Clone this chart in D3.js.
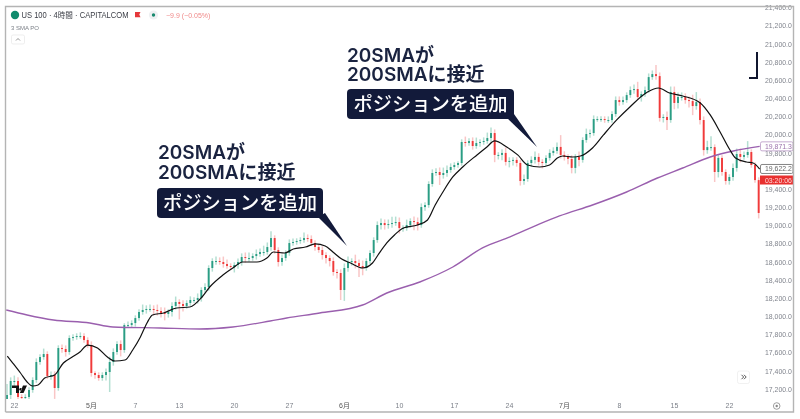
<!DOCTYPE html>
<html><head><meta charset="utf-8">
<style>html,body{margin:0;padding:0;background:#fff}svg{display:block;filter:blur(0.35px)}</style>
<script src="https://cdn.jsdelivr.net/npm/d3@7"></script></head><body>
<svg id="c" width="800" height="419"></svg>
<script>
const yTicks=[21400,21200,21000,20800,20600,20400,20200,20000,19800,19400,19200,19000,18800,18600,18400,18200,18000,17800,17600,17400,17200];
const xTickDays=[0,7,11,15,20,25,30,35,40,45,50,55,60,65];
const xTickLabels=["22","5月","7","13","20","27","6月","10","17","24","7月","8","15","22"];
const firstOpen=17060;
const closes=[
17134,17288,17288,17112,17101,17112,17189,17299,17497,17552,
17585,17343,17354,17211,17651,17640,17607,17761,17772,17783,
17783,17739,17684,17376,17354,17321,17354,17387,17497,17607,
17695,17629,17904,17904,17926,17981,18048,18070,18081,18081,
18070,18059,18037,18026,18048,18114,18158,18136,18114,18147,
18180,18180,18202,18290,18323,18532,18609,18609,18598,18576,
18554,18543,18565,18598,18653,18642,18642,18664,18686,18708,
18708,18763,18862,18730,18598,18642,18697,18807,18818,18829,
18840,18862,18851,18807,18763,18730,18675,18642,18609,18488,
18477,18290,18532,18598,18609,18587,18554,18532,18609,18697,
18840,19005,19027,19005,19016,19027,19038,18972,18972,19005,
19049,19038,19005,19203,19225,19457,19578,19589,19556,19578,
19611,19644,19666,19688,19919,19908,19930,19875,19908,19919,
19930,19963,20018,19777,19777,19799,19700,19711,19722,19688,
19490,19512,19688,19722,19755,19700,19688,19744,19799,19821,
19865,19777,19755,19733,19634,19755,19722,19941,20007,20018,
20172,20172,20172,20161,20161,20227,20381,20359,20381,20436,
20491,20502,20414,20447,20491,20634,20667,20645,20184,20195,
20161,20470,20349,20415,20415,20381,20370,20315,20359,20161,
19830,19863,19863,19589,19744,19589,19490,19534,19633,19787,
19755,19776,19809,19666,19500,19138];
const wickUp=[
120,40,60,40,30,30,30,30,40,30,
60,30,40,40,30,40,40,30,30,30,
40,30,30,40,20,30,30,40,60,40,
30,40,20,40,30,30,30,60,40,50,
40,60,40,60,30,40,60,30,40,30,
40,30,50,30,40,30,30,50,40,60,
50,30,30,40,40,50,60,30,50,40,
70,50,75,30,30,40,30,40,40,30,
30,60,40,40,30,30,40,30,30,40,
30,40,50,60,30,70,40,60,30,30,
30,40,50,40,50,70,60,50,30,60,
30,50,50,40,30,30,40,40,50,60,
50,40,30,20,30,60,30,40,60,30,
40,60,60,40,30,40,60,40,30,30,
30,50,30,40,60,40,30,30,40,40,
50,130,40,30,40,30,60,30,60,40,
40,30,30,30,40,30,40,40,40,30,
40,50,80,30,40,40,40,100,40,30,
60,60,60,50,50,40,40,70,110,40,
40,70,120,30,40,30,30,30,50,60,
60,40,120,30,30,30];
const wickDown=[
80,60,60,30,40,40,30,30,30,30,
30,30,40,120,30,40,50,30,30,30,
30,30,30,40,40,30,30,60,220,40,
30,70,30,30,30,40,30,30,40,30,
60,50,50,70,40,50,40,170,60,30,
30,30,40,40,30,40,40,40,30,40,
30,30,60,40,40,50,40,30,40,30,
40,30,40,40,50,40,30,30,30,30,
30,30,30,30,40,30,50,60,60,40,
60,110,120,40,40,60,120,80,30,30,
40,30,50,50,40,40,30,60,40,30,
30,90,60,30,40,30,30,30,110,40,
40,30,30,30,30,40,30,40,30,40,
30,30,40,80,50,60,40,60,50,40,
50,40,30,40,40,40,60,30,30,30,
30,40,40,60,60,60,70,30,30,40,
30,30,30,30,30,30,30,40,30,30,
30,40,30,50,30,30,30,40,40,50,
110,30,70,60,40,40,70,100,40,50,
60,40,40,110,60,40,40,40,40,40,
60,30,30,30,30,60];
const sma20Days=[-0.7,-0.2,0.5,1.1,1.6,2.1,2.7,3.6,4.4,5.2,5.9,6.6,7.5,8.4,9.1,10,10.7,11.4,12,12.5,13.5,14.7,15.9,17,17.7,18.9,19.8,20.7,22,22.9,23.5,24.5,25.3,26.4,27.3,28.2,28.9,29.7,30.5,31.6,32.5,33,33.8,34.5,35.3,36.6,37.5,38.2,38.9,39.8,40.7,42,42.9,43.6,44.7,45.7,46.6,47.7,48.6,49.3,49.8,50.7,51.4,52.5,53.5,54.7,55.9,57.5,58.5,59.5,60.7,62.3,63.2,64.1,65,65.5,66.5,67.1,67.7];
const sma20Vals=[17563,17486,17376,17277,17233,17244,17321,17354,17486,17552,17607,17684,17651,17552,17508,17519,17629,17773,17927,18015,18037,18092,18103,18213,18323,18455,18532,18598,18598,18642,18708,18697,18741,18763,18797,18775,18708,18631,18587,18532,18587,18675,18808,18896,18973,19006,19061,19226,19369,19534,19644,19777,19865,19931,19865,19777,19666,19644,19666,19743,19765,19754,19765,19853,19997,20162,20305,20470,20514,20459,20426,20349,20217,20030,19831,19743,19699,19688,19622];
const sma200Days=[-0.8,1.1,3.5,6.8,8.9,13.2,16.8,19.8,23.2,24.7,27.7,31.6,33.8,36.8,39.8,42.5,45,47.7,49.5,52.5,55.6,58.4,60.7,63.2,65.3,67.7];
const sma200Vals=[18070,18015,17960,17927,17883,17872,17861,17883,17949,17982,18037,18125,18257,18378,18543,18753,18874,19017,19105,19226,19369,19523,19633,19754,19820,19871];
const startDay=-0.727, barsPerDay=3;
const svg=d3.select("#c");
const sans="'Liberation Sans',sans-serif";
const x=d3.scaleLinear().domain([0,65]).range([15,730]);
const y=d3.scaleLinear().domain([17200,20800]).range([389,62]);
const GREEN="#2a9d84",RED="#f03a3a",GP="#b4dfd2",RP="#f9c6c6";
const bars=closes.map((c,i)=>{const o=i?closes[i-1]:firstOpen;const hi=Math.max(o,c)+wickUp[i],lo=Math.min(o,c)-wickDown[i];return{d:startDay+i/barsPerDay,o,c,hi,lo}});
svg.append("clipPath").attr("id","plot").append("rect").attr("x",6).attr("y",7).attr("width",754).attr("height",392);
const plot=svg.append("g").attr("clip-path","url(#plot)");
plot.selectAll("line.w").data(bars).join("line").attr("class","w")
 .attr("x1",b=>x(b.d)).attr("x2",b=>x(b.d)).attr("y1",b=>y(b.hi)).attr("y2",b=>y(b.lo))
 .attr("stroke",b=>b.c>=b.o?GP:RP).attr("stroke-width",1.5);
plot.selectAll("rect.b").data(bars).join("rect").attr("class","b")
 .attr("x",b=>x(b.d)-0.95).attr("width",1.9)
 .attr("y",b=>y(Math.max(b.o,b.c))).attr("height",b=>Math.max(1,Math.abs(y(b.o)-y(b.c))))
 .attr("fill",b=>b.c>=b.o?GREEN:RED);
const line=d3.line().x(p=>x(p[0])).y(p=>y(p[1])).curve(d3.curveMonotoneX);
plot.append("path").attr("d",line(d3.zip(sma200Days,sma200Vals))).attr("fill","none").attr("stroke","#9a5fae").attr("stroke-width",1.4);
plot.append("path").attr("d",line(d3.zip(sma20Days,sma20Vals))).attr("fill","none").attr("stroke","#111").attr("stroke-width",1.2);

// axes
const yAxis=d3.axisRight(y).tickValues(yTicks).tickSize(0).tickFormat(d3.format(",.1f"));
const ya=svg.append("g").attr("transform","translate(765,0)").call(yAxis);
ya.select(".domain").remove();
ya.selectAll("text").attr("x",0).attr("font-family",sans).attr("font-size",6.9).attr("fill","#80848d");
const xAxis=d3.axisBottom(x).tickValues(xTickDays).tickSize(0).tickFormat((d,i)=>xTickLabels[i]);
const xa=svg.append("g").attr("transform","translate(-1,402)").call(xAxis);
xa.select(".domain").remove();
xa.selectAll("text").attr("y",0).attr("dy","0.8em").attr("font-family",sans+",'Noto Sans CJK JP'").attr("font-size",7)
 .attr("fill",(d,i)=>/月/.test(xTickLabels[i])?"#555":"#7c8089");

// price tags
function tag(yc,stroke,color,txt){
 svg.append("rect").attr("x",760.5).attr("y",yc-4.5).attr("width",32.5).attr("height",9).attr("rx",1.5).attr("fill","#fff").attr("stroke",stroke).attr("stroke-width",0.8);
 svg.append("text").attr("x",765).attr("y",yc+2.5).attr("font-family",sans).attr("font-size",6.9).attr("fill",color).text(txt);
}
tag(y(19871.3),"#b896c4","#9b72ab","19,871.3");
tag(y(19622.2),"#666","#666","19,622.2");
svg.append("rect").attr("x",760).attr("y",175.5).attr("width",33).attr("height",9).attr("fill","#e8302f");
svg.append("text").attr("x",765).attr("y",182.6).attr("font-family",sans).attr("font-size",6.9).attr("fill","#ffd9d9").text("03:20:06");

// frame
svg.append("path").attr("d","M5.5,412 V6.5 H793.5 V412 H5.5").attr("fill","none").attr("stroke","#b4b4b4").attr("stroke-width",1.4);

// header
svg.append("circle").attr("cx",15).attr("cy",15).attr("r",4.2).attr("fill","#0f8a6c");
svg.append("text").attr("x",21.5).attr("y",18.2).attr("font-family","'Liberation Sans','Noto Sans CJK JP',sans-serif").attr("font-size",8.2).attr("textLength",107).attr("lengthAdjust","spacingAndGlyphs").attr("fill","#3a3d45").text("US 100 · 4時間 · CAPITALCOM");
svg.append("path").attr("d","M135,12 h5.5 l-1.2,2.6 l1.2,2.6 h-5.5 z").attr("fill","#e5383b");
svg.append("circle").attr("cx",153.5).attr("cy",15).attr("r",4.6).attr("fill","#eef0f2");
svg.append("circle").attr("cx",153.5).attr("cy",15).attr("r",1.7).attr("fill","#18896e");
svg.append("text").attr("x",166).attr("y",17.8).attr("font-family",sans).attr("font-size",7).attr("fill","#f08a8a").text("−9.9 (−0.05%)");
svg.append("text").attr("x",11).attr("y",29.5).attr("font-family",sans).attr("font-size",6).attr("fill","#7c8088").text("3 SMA PO");
svg.append("rect").attr("x",11.5).attr("y",35).attr("width",13).attr("height",9).attr("rx",1.5).attr("fill","#fff").attr("stroke","#e6e6e6").attr("stroke-width",0.7);
svg.append("path").attr("d","M16,40.5 l2,-2 l2,2").attr("fill","none").attr("stroke","#666").attr("stroke-width",0.7);

// logo
svg.append("path").attr("d","M12,385.5 h7 v7.5 h-3 v-5 h-4 z M20.5,388 a1.3,1.3 0 1 0 0.01,0 M23,385.5 h4 l-3.5,7.5 h-3.6 z").attr("fill","#111");

// corner mark
svg.append("path").attr("d","M757,52 V78 H749").attr("fill","none").attr("stroke","#10162f").attr("stroke-width",2);

// scroll button and gear
svg.append("rect").attr("x",737.5).attr("y",371).attr("width",12).attr("height",12.5).attr("rx",2).attr("fill","#fff").attr("stroke","#eee").attr("stroke-width",0.8);
svg.append("path").attr("d","M741.5,374.8 l2.2,2.2 l-2.2,2.2 M744,374.8 l2.2,2.2 l-2.2,2.2").attr("fill","none").attr("stroke","#444").attr("stroke-width",0.9);
svg.append("circle").attr("cx",776.7).attr("cy",406).attr("r",3.3).attr("fill","none").attr("stroke","#888").attr("stroke-width",0.8);
svg.append("circle").attr("cx",776.7).attr("cy",406).attr("r",1.2).attr("fill","#888");

// callouts
const NAVY="#121a3a";
const JP="Inter,'Noto Sans CJK JP',sans-serif";
function callout(tx,b1,b2,bx,by,bw,bh,tail){
 svg.append("text").attr("x",tx).attr("y",b1).attr("font-family",JP).attr("font-size",19).attr("font-weight",600).attr("fill","#1a2340").text("20SMAが");
 svg.append("text").attr("x",tx).attr("y",b2).attr("font-family",JP).attr("font-size",19).attr("font-weight",600).attr("fill","#1a2340").text("200SMAに接近");
 svg.append("path").attr("d",tail).attr("fill",NAVY);
 svg.append("rect").attr("x",bx).attr("y",by).attr("width",bw).attr("height",bh).attr("rx",4).attr("fill",NAVY);
 svg.append("text").attr("x",bx+bw/2).attr("y",by+bh/2+6.8).attr("text-anchor","middle").attr("font-family","'Noto Sans CJK JP',sans-serif").attr("font-size",19.3).attr("font-weight",500).attr("fill","#fff").text("ポジションを追加");
}
callout(158,159,179,157,188,166,30,"M318,217 L347,246 L325,213 Z");
callout(347,62,81,347,89,167,30,"M507,118 L537,147 L514,114 Z");
</script></body></html>
